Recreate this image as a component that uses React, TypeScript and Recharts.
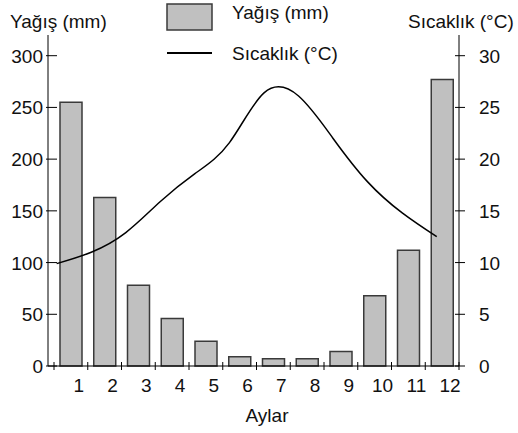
import React from 'react';
import { ComposedChart, Bar, Line, XAxis, YAxis, Legend } from 'recharts';

// Aylık yağış (mm) ve sıcaklık (°C)
const months = ['1', '2', '3', '4', '5', '6', '7', '8', '9', '10', '11', '12'];
const rainfall = [255, 163, 78, 46, 24, 9, 7, 7, 14, 68, 112, 277];
const temperature = [9.9, 11.0, 12.9, 15.9, 18.6, 21.6, 26.4, 26.1, 22.0, 17.8, 14.8, 12.5];
const rainTicks = [0, 50, 100, 150, 200, 250, 300];
const tempTicks = [0, 5, 10, 15, 20, 25, 30];

const W = 518;
const H = 433;
const PLOT_LEFT = 48;
const PLOT_RIGHT = 459;
const PLOT_TOP = 35;
const PLOT_BOTTOM = 366;
const PAD_LEFT = 6;
const BAND = (PLOT_RIGHT - PLOT_LEFT - PAD_LEFT) / months.length;
const FONT = '"Liberation Sans", Arial, sans-serif';
const FS = 19;
const BAR_FILL = '#c0c0c0';
const BAR_STROKE = '#3a3a3a';

const data = months.map((m, i) => ({
  month: m,
  idx: i + 1,
  rain: rainfall[i],
  temp: temperature[i],
}));

const textStyle = { fontFamily: FONT, fontSize: FS, fill: '#111' };

const MonthTick = (props: any) => {
  const { x, y, payload, index } = props;
  const half = BAND / 2;
  return (
    <g>
      {index === 0 && <line x1={x - half} x2={x - half} y1={y - 4} y2={y + 4} stroke="#000" />}
      <line x1={x + half} x2={x + half} y1={y - 4} y2={y + 4} stroke="#000" />
      <text x={x + 8} y={y + 26} textAnchor="middle" style={textStyle}>
        {payload.value}
      </text>
    </g>
  );
};

const LeftTick = (props: any) => {
  const { x, y, payload } = props;
  return (
    <g>
      <line x1={x - 2} x2={x + 9} y1={y} y2={y} stroke="#000" />
      <text x={x - 5} y={y + 7} textAnchor="end" style={textStyle}>
        {payload.value}
      </text>
    </g>
  );
};

const RightTick = (props: any) => {
  const { x, y, payload } = props;
  return (
    <g>
      <line x1={x - 4} x2={x + 6} y1={y} y2={y} stroke="#000" />
      <text x={x + 20} y={y + 7} textAnchor="start" style={textStyle}>
        {payload.value}
      </text>
    </g>
  );
};

const LegendBox = () => (
  <svg width={200} height={70} style={{ display: 'block', overflow: 'visible' }}>
    <rect x={7} y={4} width={45} height={26} fill={BAR_FILL} stroke={BAR_STROKE} strokeWidth={1.5} />
    <text x={72} y={19} style={textStyle}>Yağış (mm)</text>
    <line x1={7} x2={52} y1={53} y2={53} stroke="#000" strokeWidth={2} />
    <text x={72} y={60} style={textStyle}>Sıcaklık (°C)</text>
  </svg>
);

export default function App() {
  return (
    <div style={{ position: 'absolute', left: 0, top: 0, background: '#fff' }}>
      <ComposedChart
        width={W}
        height={H}
        data={data}
        margin={{ top: PLOT_TOP, right: 0, bottom: 0, left: 0 }}
      >
        <XAxis
          xAxisId="m"
          dataKey="month"
          type="category"
          padding={{ left: PAD_LEFT, right: 0 }}
          height={H - PLOT_BOTTOM}
          interval={0}
          tickLine={false}
          tickSize={0}
          tickMargin={0}
          axisLine={{ stroke: '#000' }}
          tick={<MonthTick />}
          label={{
            content: () => (
              <text x={267} y={422} textAnchor="middle" style={textStyle}>Aylar</text>
            ),
          }}
        />
        <XAxis
          xAxisId="t"
          dataKey="idx"
          type="number"
          domain={[0.748, 12.644]}
          hide
          height={0}
        />
        <YAxis
          yAxisId="rain"
          orientation="left"
          width={PLOT_LEFT}
          domain={[0, 320]}
          ticks={rainTicks}
          interval={0}
          tickLine={false}
          tickSize={0}
          tickMargin={0}
          axisLine={{ stroke: '#000' }}
          tick={<LeftTick />}
          label={{
            content: () => (
              <text x={10} y={28} style={textStyle}>Yağış (mm)</text>
            ),
          }}
        />
        <YAxis
          yAxisId="temp"
          orientation="right"
          width={W - PLOT_RIGHT}
          domain={[0, 32]}
          ticks={tempTicks}
          interval={0}
          tickLine={false}
          tickSize={0}
          tickMargin={0}
          axisLine={{ stroke: '#000' }}
          tick={<RightTick />}
          label={{
            content: () => (
              <text x={408} y={28} style={textStyle}>Sıcaklık (°C)</text>
            ),
          }}
        />
        <Legend
          layout="horizontal"
          verticalAlign="middle"
          align="center"
          content={() => <LegendBox />}
          wrapperStyle={{ top: 0, left: 160, width: 200, height: 70 }}
        />
        <Bar
          xAxisId="m"
          yAxisId="rain"
          dataKey="rain"
          name="Yağış (mm)"
          fill={BAR_FILL}
          stroke={BAR_STROKE}
          strokeWidth={1.5}
          barSize={22}
          isAnimationActive={false}
        />
        <Line
          xAxisId="t"
          yAxisId="temp"
          dataKey="temp"
          name="Sıcaklık (°C)"
          type="natural"
          stroke="#000"
          strokeWidth={1.5}
          dot={false}
          activeDot={false}
          isAnimationActive={false}
        />
      </ComposedChart>
    </div>
  );
}
